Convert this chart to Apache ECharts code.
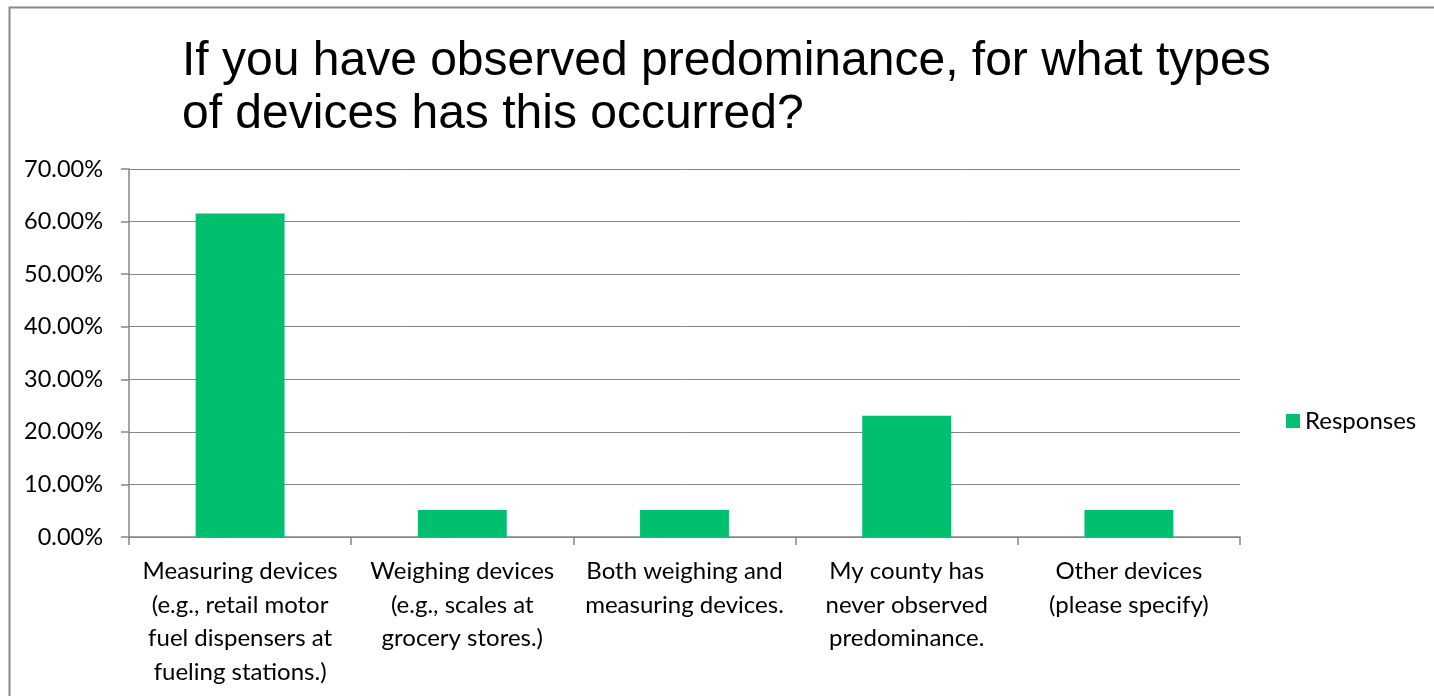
<!DOCTYPE html>
<html><head><meta charset="utf-8">
<script src="https://cdn.jsdelivr.net/npm/echarts@6/dist/echarts.min.js"></script>
<style>html,body{margin:0;padding:0;background:#fff}#c{width:1434px;height:696px}</style>
</head><body><div id="c"></div>
<script>
const categories = [
  "Measuring devices\n(e.g., retail motor\nfuel dispensers at\nfueling stations.)",
  "Weighing devices\n(e.g., scales at\ngrocery stores.)",
  "Both weighing and\nmeasuring devices.",
  "My county has\nnever observed\npredominance.",
  "Other devices\n(please specify)"
];
const responses = [0.6154, 0.0513, 0.0513, 0.2308, 0.0513];
const seriesName = "Responses";
const titleText = "If you have observed predominance, for what types\nof devices has this occurred?";

const chart = echarts.init(document.getElementById('c'), null, {renderer: 'canvas'});
const labelFont = "Lato, 'Open Sans', sans-serif";
chart.setOption({
  animation: false,
  title: {
    text: titleText, left: 177, top: 30,
    textStyle: {fontFamily: "'Liberation Sans', Arial, sans-serif", fontSize: 48, fontWeight: 'normal', color: '#000', lineHeight: 53}
  },
  graphic: [{
    type: 'rect', left: 7, top: 5, shape: {width: 1440, height: 700},
    style: {fill: 'none', stroke: '#898989', lineWidth: 2}, silent: true
  }],
  legend: {
    data: [seriesName], orient: 'vertical', left: 1281, top: 404,
    itemWidth: 14, itemHeight: 14, itemGap: 8,
    textStyle: {fontFamily: labelFont, fontSize: 24, color: '#000'},
    icon: 'rect'
  },
  grid: {left: 129, right: 194, top: 169, bottom: 159, containLabel: false},
  xAxis: {
    type: 'category', data: categories,
    axisLine: {lineStyle: {color: '#868686', width: 1.5}},
    axisTick: {show: true, length: 8, alignWithLabel: false, lineStyle: {color: '#868686', width: 1.5}},
    axisLabel: {interval: 0, margin: 18, fontFamily: labelFont, fontSize: 24, lineHeight: 33.5, color: '#000'}
  },
  yAxis: {
    type: 'value', min: 0, max: 0.7, interval: 0.1,
    axisLine: {show: true, lineStyle: {color: '#868686', width: 1.5}},
    axisTick: {show: true, length: 8, lineStyle: {color: '#868686', width: 1.5}},
    splitLine: {lineStyle: {color: '#868686', width: 1}},
    axisLabel: {margin: 26, fontFamily: labelFont, fontSize: 23.5, color: '#000',
      formatter: v => (v * 100).toFixed(2) + '%'}
  },
  series: [{
    name: seriesName, type: 'bar', data: responses, barWidth: '40%',
    itemStyle: {color: '#00BF6F'}
  }]
});
</script></body></html>
